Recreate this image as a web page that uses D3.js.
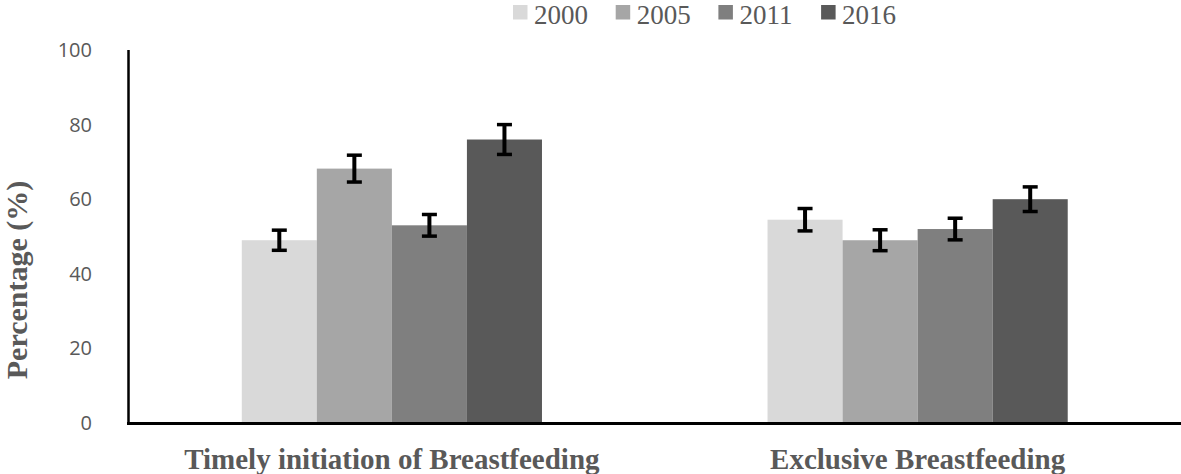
<!DOCTYPE html>
<html><head><meta charset="utf-8">
<script src="https://cdn.jsdelivr.net/npm/d3@7"></script>
<style>body{margin:0;background:#fff}svg{display:block}</style>
</head><body>
<script>
const categories = ["Timely initiation of Breastfeeding", "Exclusive Breastfeeding"];
const years = ["2000", "2005", "2011", "2016"];
const colors = ["#d9d9d9", "#a6a6a6", "#7f7f7f", "#595959"];
const values2000 = [49, 54.5];
const values2005 = [68.2, 49];
const values2011 = [53, 52];
const values2016 = [76, 60];
const err2000 = [2.7, 3.0];
const err2005 = [3.6, 2.8];
const err2011 = [2.9, 2.9];
const err2016 = [4.0, 3.3];
const yTicks = [0, 20, 40, 60, 80, 100];

const seriesValues = [values2000, values2005, values2011, values2016];
const seriesErr = [err2000, err2005, err2011, err2016];

const W = 1181, H = 474;
const svg = d3.select("body").append("svg").attr("width", W).attr("height", H);

const x0 = d3.scaleBand().domain(categories).range([129, 1180.5]).paddingInner(0.429).paddingOuter(0.2145);
const x1 = d3.scaleBand().domain(years).range([0, x0.bandwidth()]).padding(0);
const y = d3.scaleLinear().domain([0, 100]).range([423, 50]);

// y tick labels
svg.append("g").selectAll("text").data(yTicks).join("text")
  .attr("x", 92).attr("y", d => y(d)).attr("dy", "0.35em")
  .attr("text-anchor", "end")
  .attr("font-family", "'Open Sans', sans-serif").attr("font-size", 20)
  .attr("fill", "#595959").text(d => d);

// bars
const rows = [];
categories.forEach((c, ci) => years.forEach((yr, si) => rows.push({c, yr, si, v: seriesValues[si][ci], e: seriesErr[si][ci]})));

svg.append("g").selectAll("rect").data(rows).join("rect")
  .attr("x", d => x0(d.c) + x1(d.yr))
  .attr("width", x1.bandwidth())
  .attr("y", d => y(d.v))
  .attr("height", d => y(0) - y(d.v))
  .attr("fill", d => colors[d.si]);

// error bars
const eg = svg.append("g").attr("stroke", "#000");
rows.forEach(d => {
  const cx = x0(d.c) + x1(d.yr) + x1.bandwidth() / 2;
  eg.append("line").attr("x1", cx).attr("x2", cx).attr("y1", y(d.v + d.e)).attr("y2", y(d.v - d.e)).attr("stroke-width", 4);
  eg.append("line").attr("x1", cx - 7.5).attr("x2", cx + 7.5).attr("y1", y(d.v + d.e)).attr("y2", y(d.v + d.e)).attr("stroke-width", 3.5);
  eg.append("line").attr("x1", cx - 7.5).attr("x2", cx + 7.5).attr("y1", y(d.v - d.e)).attr("y2", y(d.v - d.e)).attr("stroke-width", 3.5);
});

// axes lines
svg.append("line").attr("x1", 128.5).attr("x2", 128.5).attr("y1", y(100)).attr("y2", y(0)).attr("stroke", "#000").attr("stroke-width", 2.5);
svg.append("line").attr("x1", 127).attr("x2", W).attr("y1", y(0) + 0.5).attr("y2", y(0) + 0.5).attr("stroke", "#000").attr("stroke-width", 3);

// category labels
svg.append("g").selectAll("text").data(categories).join("text")
  .attr("x", d => x0(d) + x0.bandwidth() / 2).attr("y", 469)
  .attr("text-anchor", "middle")
  .attr("font-family", "'Liberation Serif', 'Times New Roman', serif").attr("font-weight", "bold")
  .attr("font-size", 29).attr("fill", "#595959").text(d => d);

// y title
svg.append("text").attr("transform", "translate(27,280) rotate(-90)")
  .attr("text-anchor", "middle")
  .attr("font-family", "'Liberation Serif', 'Times New Roman', serif").attr("font-weight", "bold")
  .attr("font-size", 30).attr("fill", "#595959").text("Percentage (%)");

// legend
const lg = svg.append("g");
years.forEach((yr, i) => {
  const lx = 513 + i * 102.7;
  lg.append("rect").attr("x", lx).attr("y", 5).attr("width", 14.5).attr("height", 14.5).attr("fill", colors[i]);
  lg.append("text").attr("x", lx + 21).attr("y", 24)
    .attr("font-family", "'Liberation Serif', 'Times New Roman', serif")
    .attr("font-size", 27).attr("fill", "#595959").text(yr);
});
</script>
</body></html>
